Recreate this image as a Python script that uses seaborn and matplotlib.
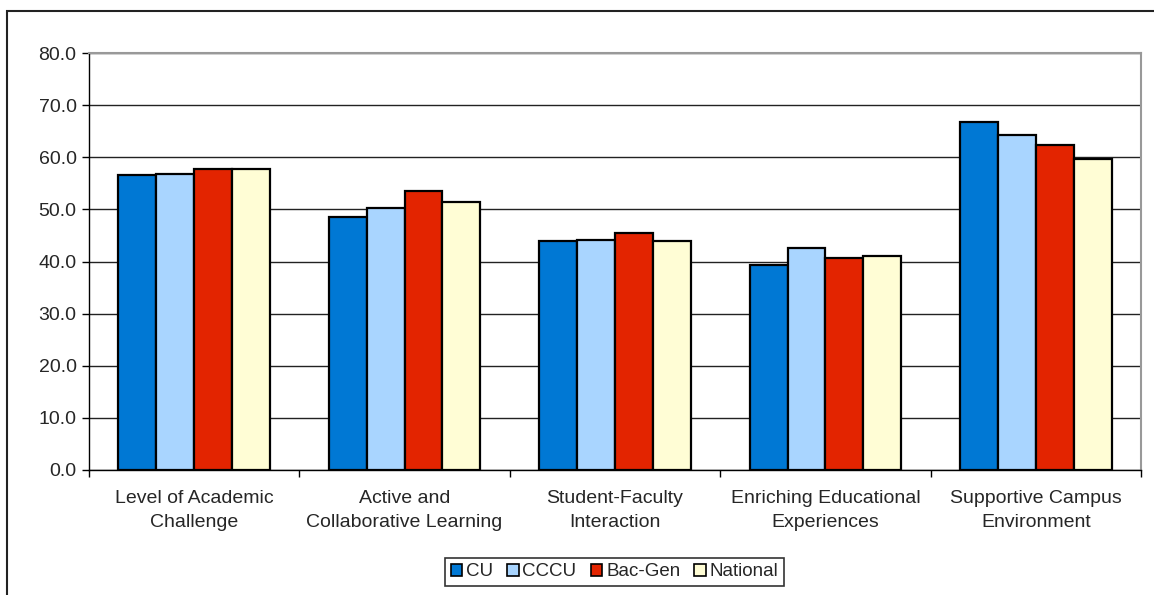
import pandas as pd
import numpy as np
import matplotlib
matplotlib.use("Agg")
import matplotlib.pyplot as plt
import seaborn as sns
from matplotlib.patches import Rectangle, Patch

# ==========================================
# DATA
# ==========================================
categories = [
    "Level of Academic\nChallenge",
    "Active and\nCollaborative Learning",
    "Student-Faculty\nInteraction",
    "Enriching Educational\nExperiences",
    "Supportive Campus\nEnvironment",
]
groups = ["CU", "CCCU", "Bac-Gen", "National"]
cu_vals = [56.5, 48.5, 43.9, 39.3, 66.8]
cccu_vals = [56.8, 50.3, 44.2, 42.5, 64.2]
bacgen_vals = [57.8, 53.5, 45.5, 40.6, 62.3]
national_vals = [57.7, 51.4, 44.0, 41.0, 59.7]
y_ticks = [0, 10, 20, 30, 40, 50, 60, 70, 80]

palette = {
    "CU": "#0078D4",
    "CCCU": "#A9D5FF",
    "Bac-Gen": "#E32400",
    "National": "#FFFDD5",
}

# long form table for seaborn
rows = []
for name, vals in zip(groups, [cu_vals, cccu_vals, bacgen_vals, national_vals]):
    for cat, v in zip(categories, vals):
        rows.append({"category": cat, "group": name, "score": v})
df = pd.DataFrame(rows)

# ==========================================
# STYLING
# ==========================================
sns.set_theme(style="white")
plt.rcParams["font.family"] = ["Liberation Sans", "DejaVu Sans"]

fig = plt.figure(figsize=(11.54, 5.95), dpi=100)
ax = fig.add_axes([89 / 1154, 1 - 470 / 595, (1141 - 89) / 1154, (470 - 53) / 595])

sns.barplot(data=df, x="category", y="score", hue="group", order=categories,
            hue_order=groups, palette=palette, width=0.72, gap=0,
            edgecolor="black", linewidth=1.6, saturation=1, errorbar=None, ax=ax)

ax.set_ylim(0, 80)
ax.set_xlim(-0.5, len(categories) - 0.5)
ax.set_yticks(y_ticks)
ax.set_yticklabels([f"{t:.1f}" for t in y_ticks], fontsize=14)
ax.yaxis.grid(True, color="#222222", linewidth=1)
ax.set_axisbelow(True)

# category labels centred, tick marks on the boundaries
ax.set_xticks(range(len(categories)))
ax.set_xticklabels(categories, fontsize=14, linespacing=1.55)
ax.set_xticks(np.arange(-0.5, len(categories), 1), minor=True)
ax.tick_params(axis="x", which="major", length=0, pad=14.5)
ax.tick_params(axis="x", which="minor", length=5, width=1, color="black", direction="out", bottom=True)
ax.tick_params(axis="y", length=5, width=1, color="black", direction="out", left=True, pad=4)
ax.set_xlabel("")
ax.set_ylabel("")

for side in ["left", "bottom"]:
    ax.spines[side].set_color("black")
    ax.spines[side].set_linewidth(1)
for side in ["top", "right"]:
    ax.spines[side].set_color("#999999")
    ax.spines[side].set_linewidth(1.5)

# legend with boxed squares
ax.legend_.remove()
handles = [Patch(facecolor=palette[g], edgecolor="black", linewidth=1.2) for g in groups]
leg = fig.legend(handles, groups, loc="center", bbox_to_anchor=(614.5 / 1154, 1 - 572 / 595),
                 ncol=4, fontsize=13.5, frameon=True, fancybox=False, handlelength=0.62,
                 handleheight=0.62, handletextpad=0.2, columnspacing=0.75, borderpad=0.3,
                 borderaxespad=0)
leg.get_frame().set_edgecolor("black")
leg.get_frame().set_linewidth(1.2)

# outer chart border (runs off the right and bottom edge)
fig.patches.append(Rectangle((7 / 1154, -0.05), 1.2, 1 - 11 / 595 + 0.05,
                             transform=fig.transFigure, fill=False,
                             edgecolor="#222222", linewidth=1.5))

fig.savefig("out.png", dpi=100)
